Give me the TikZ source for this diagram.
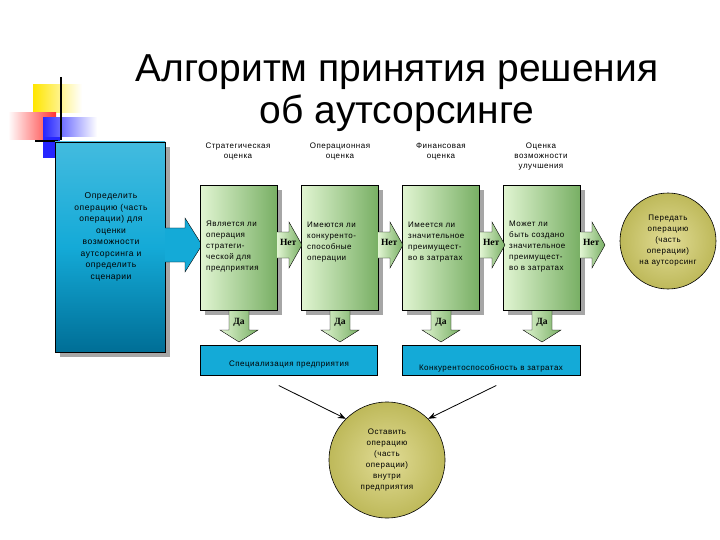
\documentclass[tikz,border=0pt]{standalone}
\usepackage{fontspec}
\setmainfont{Liberation Sans}
\newfontfamily\serifb{Liberation Serif}
\newfontfamily\spaced[LetterSpace=6]{Liberation Sans}
\usetikzlibrary{arrows.meta}
\definecolor{bluebox}{RGB}{20,170,215}
\definecolor{bluedark}{RGB}{0,110,150}
\definecolor{greenL}{RGB}{225,245,210}
\definecolor{greenD}{RGB}{120,175,100}
\definecolor{olive}{RGB}{190,185,90}
\definecolor{oliveL}{RGB}{225,220,150}
\tikzset{
  x=1pt,y=-1pt,
  shadowbox/.style={fill=black!35},
  gbox/.style={draw=black,line width=0.5pt,left color=greenL,right color=greenD},
  txt/.style={font=\spaced\fontsize{8}{10}\selectfont,align=center,inner sep=0pt},
  txtl/.style={font=\spaced\fontsize{8}{11}\selectfont,align=left,inner sep=0pt,anchor=west},
  net/.style={font=\serifb\bfseries\fontsize{9.5}{10}\selectfont,inner sep=0pt},
  garrow/.style={draw=black,line width=0.4pt,left color=greenL,right color=greenD},
  circ/.style={circle,draw=black,line width=0.6pt,inner color=oliveL,outer color=olive,align=center,font=\spaced\fontsize{8}{11}\selectfont},
  bbar/.style={draw=black,line width=0.5pt,fill=bluebox}
}
\begin{document}
\begin{tikzpicture}
\useasboundingbox (0,0) rectangle (720,540);
% decoration
\shade[left color=yellow!80!orange,right color=white] (33,85) rectangle (82,113);
\shade[left color=white,right color=red!80] (8,113) rectangle (56,140);
\shade[left color=blue!85,right color=white] (43,118) rectangle (97,137);
\fill[blue!85] (43,137) rectangle (60,158);
\draw[line width=2pt] (61,77) -- (61,140);
\draw[line width=2pt] (35,141) -- (58,141);
% title
\node (t1) at (397,72) {\fontsize{39}{42}\selectfont Алгоритм принятия решения};
\node (t2) at (397,113) {\fontsize{39}{42}\selectfont об аутсорсинге};
% big blue box
\fill[shadowbox] (60,147) rectangle (170,357);
\shade[draw=black,line width=0.5pt,top color=bluebox!80!white,bottom color=bluedark,middle color=bluebox] (55,142) rectangle (165,352);
\node[txt,font=\spaced\fontsize{8.5}{11.5}\selectfont] (left) at (111,237) {Определить\\операцию (часть\\операции) для\\оценки\\возможности\\аутсорсинга и\\определить\\сценарии};
% blue arrow
\draw[draw=black,line width=0.4pt,fill=bluebox] (165,228) -- (185,228) -- (185,218) -- (202,245) -- (185,272) -- (185,262) -- (165,262);
% headers
\node[txt] (h1) at (238,152) {Стратегическая\\оценка};
\node[txt] (h2) at (340,152) {Операционная\\оценка};
\node[txt] (h3) at (441,152) {Финансовая\\оценка};
\node[txt] (h4) at (541,157) {Оценка\\возможности\\улучшения};
% green boxes
\foreach \x/\n in {200/1,301/2,402/3,503/4}{
  \fill[shadowbox] (\x+5,190) rectangle (\x+82,315);
  \draw[garrow] (\x+29,310) -- (\x+29,330) -- (\x+20,330) -- (\x+39,342) -- (\x+58,330) -- (\x+49,330) -- (\x+49,310);
  \node[gbox,minimum width=77,minimum height=125,anchor=north west,inner sep=0] (g\n) at (\x,185) {};
  \node[net] at (\x+39,322) {Да};
}
\node[txtl] at (206,247) {Является ли\\операция\\стратеги-\\ческой для\\предприятия};
\node[txtl] at (307,242) {Имеются ли\\конкуренто-\\способные\\операции};
\node[txtl] at (408,242) {Имеется ли\\значительное\\преимущест-\\во в затратах};
\node[txtl] at (509,247) {Может ли\\быть создано\\значительное\\преимущест-\\во в затратах};
% Нет arrows
\foreach \x in {277,378,480,580}{
  \draw[garrow] (\x,232) -- (\x+12,232) -- (\x+12,222) -- (\x+25,245) -- (\x+12,268) -- (\x+12,258) -- (\x,258);
  \node[net] at (\x+3,242) {\rlap{Нет}};
}
% right circle
\node[circ,minimum size=96,inner sep=0] (c1) at (668,241) {Передать\\операцию\\(часть\\операции)\\на аутсорсинг};
% blue bars
\node[bbar,minimum width=177,minimum height=30,anchor=north west,inner sep=0] (b1) at (200,345) {};
\node[txt] at (289,365) {Специализация предприятия};
\node[bbar,minimum width=178,minimum height=30,anchor=north west,inner sep=0] (b2) at (402,345) {};
\node[txt] at (491,368) {Конкурентоспособность в затратах};
% bottom circle
\node[circ,minimum size=116,inner sep=0] (c2) at (387,460) {Оставить\\операцию\\(часть\\операции)\\внутри\\предприятия};
\draw[-{Stealth[length=8pt,width=6pt]},line width=0.8pt] (b1.south) ++(-10,10) coordinate (s1) -- (c2.north west);
\draw[-{Stealth[length=8pt,width=6pt]},line width=0.8pt] (b2.south) ++(5,10) coordinate (s2) -- (c2.north east);
\end{tikzpicture}
\end{document}
